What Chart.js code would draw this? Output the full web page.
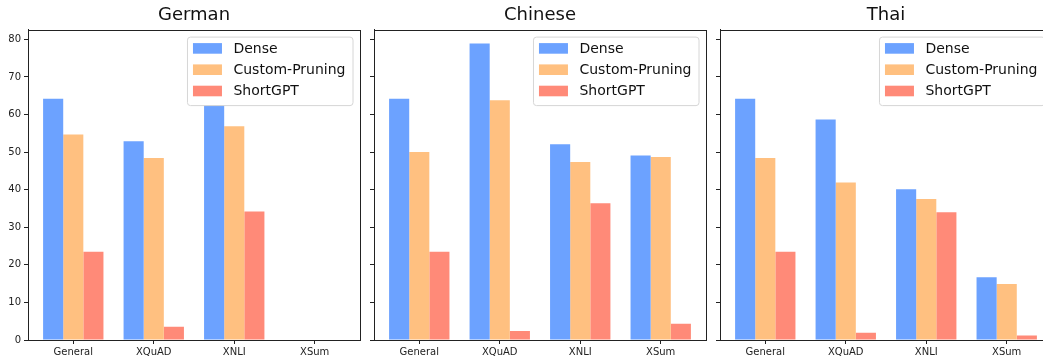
<!DOCTYPE html>
<html>
<head>
<meta charset="utf-8">
<script src="https://cdn.jsdelivr.net/npm/chart.js@4/dist/chart.umd.min.js"></script>
<style>
  html, body { margin: 0; padding: 0; background: #fff; overflow: hidden; }
  #wrap { position: relative; width: 1043px; height: 358px; overflow: hidden; }
  canvas { position: absolute; top: 0; }
</style>
</head>
<body>
<div id="wrap">
  <canvas id="german" width="361" height="358" style="left:0"></canvas>
  <canvas id="chinese" width="341" height="358" style="left:366px"></canvas>
  <canvas id="thai" width="341" height="358" style="left:712px"></canvas>
</div>
<script>
const categories = ['General', 'XQuAD', 'XNLI', 'XSum'];
const seriesNames = ['Dense', 'Custom-Pruning', 'ShortGPT'];
const seriesColors = ['#6ca2ff', '#ffc080', '#ff8a78'];

const germanDense = [64.2, 52.9, 63.5, 0];
const germanCustom = [54.7, 48.4, 56.9, 0];
const germanShort = [23.5, 3.5, 34.2, 0];

const chineseDense = [64.2, 78.9, 52.1, 49.1];
const chineseCustom = [50.0, 63.8, 47.4, 48.7];
const chineseShort = [23.5, 2.4, 36.4, 4.3];

const thaiDense = [64.2, 58.7, 40.1, 16.7];
const thaiCustom = [48.4, 41.9, 37.5, 14.9];
const thaiShort = [23.5, 1.9, 34.0, 1.2];

const yTicks = [0, 10, 20, 30, 40, 50, 60, 70, 80];
const yMax = 82.6;

const FONT = '"DejaVu Sans", sans-serif';

// legend box inside the axes, upper right, and the four spines on top
const boxLegend = {
  id: 'boxLegend',
  afterDraw(chart) {
    const ctx = chart.ctx;
    const a = chart.chartArea;
    ctx.save();
    ctx.font = '14px ' + FONT;
    const textW = Math.max(...seriesNames.map(n => ctx.measureText(n).width));
    const w = 46.5 + textW + 7;
    const h = 68.5;
    const x = a.right - 7.5 - w;
    const y = a.top + 7;

    ctx.beginPath();
    ctx.roundRect(x + 0.5, y + 0.5, w, h, 3);
    ctx.fillStyle = '#fff';
    ctx.fill();
    ctx.strokeStyle = '#d6d6d6';
    ctx.lineWidth = 1;
    ctx.stroke();

    seriesNames.forEach((name, i) => {
      const cy = y + 11.8 + i * 21.3;
      ctx.fillStyle = seriesColors[i];
      ctx.fillRect(x + 6, cy - 5.3, 29, 10.6);
      ctx.fillStyle = '#111';
      ctx.textBaseline = 'middle';
      ctx.fillText(name, x + 46.5, cy + 0.5);
    });

    ctx.strokeStyle = '#222';
    ctx.lineWidth = 1;
    ctx.strokeRect(Math.round(a.left) + 0.5, Math.round(a.top) + 0.5,
      Math.round(a.right - a.left), Math.round(a.bottom - a.top));
    ctx.restore();
  }
};

function makePanel(canvasId, title, dense, custom, short, showYLabels) {
  const lists = [dense, custom, short];
  new Chart(document.getElementById(canvasId), {
    type: 'bar',
    data: {
      datasets: seriesNames.map((name, k) => ({
        label: name,
        data: lists[k].map((v, i) => ({ x: i, y: v })),
        backgroundColor: seriesColors[k],
        borderWidth: 0,
        categoryPercentage: 0.75,
        barPercentage: 1
      }))
    },
    options: {
      responsive: false,
      animation: false,
      layout: { padding: { right: 1, left: 0, top: 0, bottom: 0 } },
      scales: {
        x: {
          type: 'linear',
          offset: false,
          min: -0.5625,
          max: 3.5625,
          afterBuildTicks: s => { s.ticks = categories.map((c, i) => ({ value: i })); },
          afterFit: s => { s.height = 18; },
          grid: { offset: false, drawOnChartArea: false, drawTicks: true, tickLength: 4, color: '#222' },
          border: { display: true, color: '#222', width: 1 },
          ticks: {
            autoSkip: false,
            maxRotation: 0,
            padding: 2,
            color: '#222',
            font: { family: FONT, size: 10 },
            callback: v => categories[v]
          }
        },
        y: {
          min: 0,
          max: yMax,
          afterBuildTicks: s => { s.ticks = yTicks.map(v => ({ value: v })); },
          afterFit: s => { s.width = showYLabels ? 28 : 8; },
          grid: { drawOnChartArea: false, drawTicks: true, tickLength: 4, color: '#222' },
          border: { display: true, color: '#222', width: 1 },
          ticks: {
            padding: 3,
            color: '#222',
            font: { family: FONT, size: 10 },
            callback: v => showYLabels ? String(v) : ''
          }
        }
      },
      plugins: {
        legend: { display: false },
        tooltip: { enabled: false },
        title: {
          display: true,
          text: title,
          fullSize: false,
          color: '#111',
          font: { family: FONT, size: 18, weight: 'normal' },
          padding: { top: 5, bottom: 3 }
        }
      }
    },
    plugins: [boxLegend]
  });
}

makePanel('german', 'German', germanDense, germanCustom, germanShort, true);
makePanel('chinese', 'Chinese', chineseDense, chineseCustom, chineseShort, false);
makePanel('thai', 'Thai', thaiDense, thaiCustom, thaiShort, false);
</script>
</body>
</html>
